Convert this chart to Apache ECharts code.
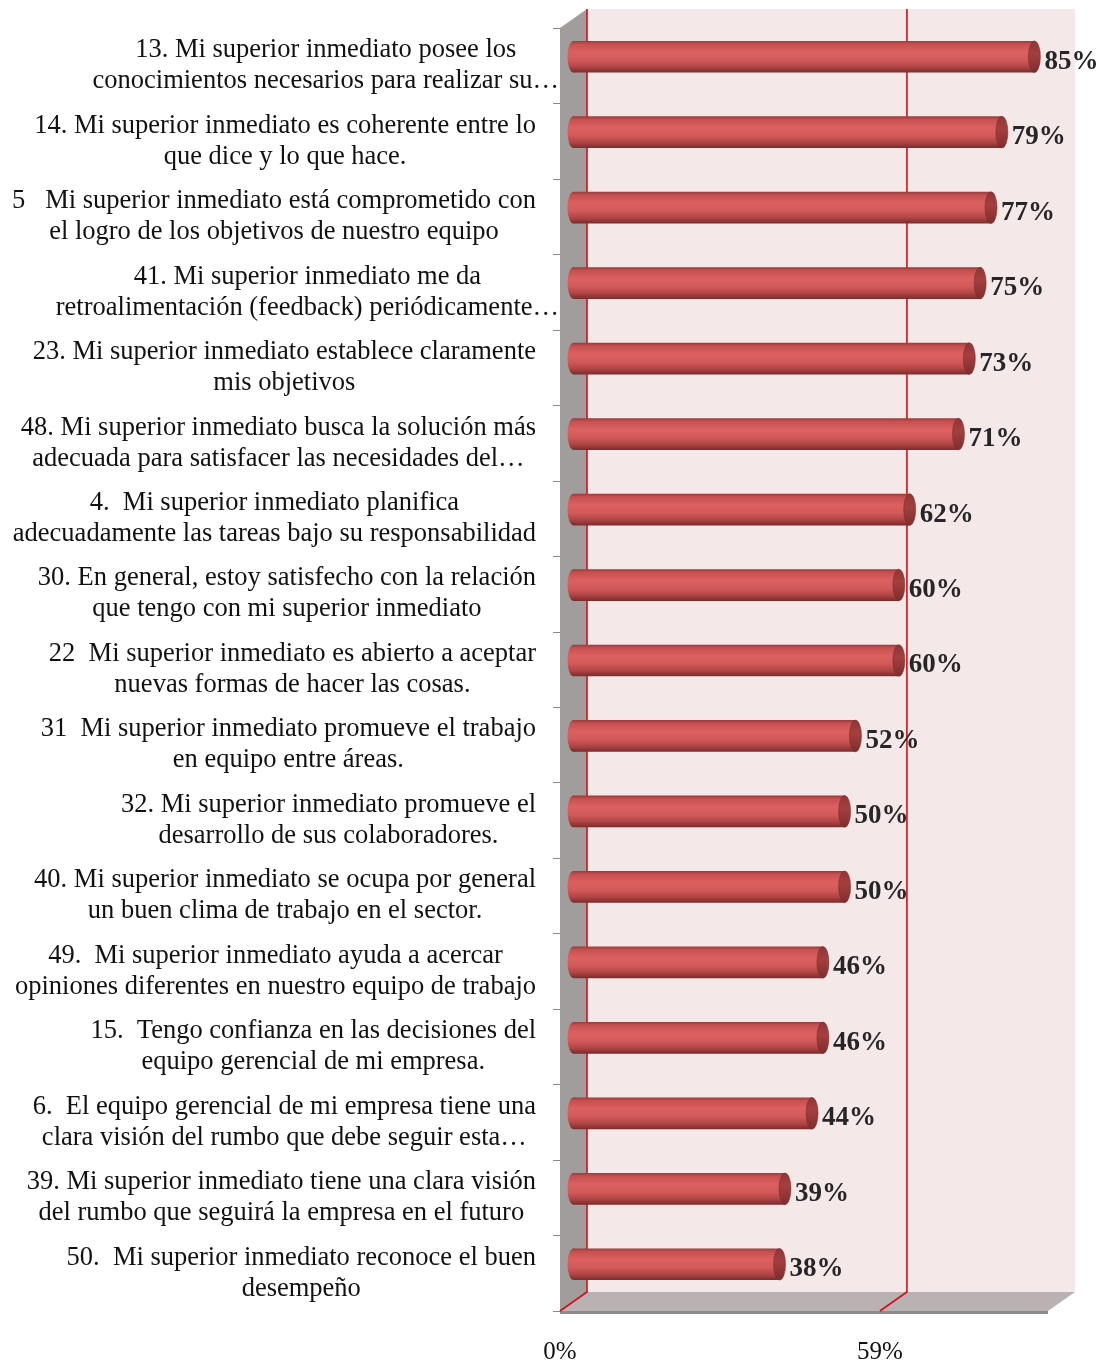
<!DOCTYPE html>
<html><head><meta charset="utf-8">
<script src="https://cdn.jsdelivr.net/npm/echarts@6/dist/echarts.min.js"></script>
<style>html,body{margin:0;padding:0;background:#fff}#c{width:1099px;height:1366px}</style>
</head><body><div id="c"></div>
<script>
const categories = [
 "13. Mi superior inmediato posee los\nconocimientos necesarios para realizar su…",
 "14. Mi superior inmediato es coherente entre lo\nque dice y lo que hace.",
 "5   Mi superior inmediato está comprometido con\nel logro de los objetivos de nuestro equipo",
 "41. Mi superior inmediato me da\nretroalimentación (feedback) periódicamente…",
 "23. Mi superior inmediato establece claramente\nmis objetivos",
 "48. Mi superior inmediato busca la solución más\nadecuada para satisfacer las necesidades del…",
 "4.  Mi superior inmediato planifica\nadecuadamente las tareas bajo su responsabilidad",
 "30. En general, estoy satisfecho con la relación\nque tengo con mi superior inmediato",
 "22  Mi superior inmediato es abierto a aceptar\nnuevas formas de hacer las cosas.",
 "31  Mi superior inmediato promueve el trabajo\nen equipo entre áreas.",
 "32. Mi superior inmediato promueve el\ndesarrollo de sus colaboradores.",
 "40. Mi superior inmediato se ocupa por general\nun buen clima de trabajo en el sector.",
 "49.  Mi superior inmediato ayuda a acercar\nopiniones diferentes en nuestro equipo de trabajo",
 "15.  Tengo confianza en las decisiones del\nequipo gerencial de mi empresa.",
 "6.  El equipo gerencial de mi empresa tiene una\nclara visión del rumbo que debe seguir esta…",
 "39. Mi superior inmediato tiene una clara visión\ndel rumbo que seguirá la empresa en el futuro",
 "50.  Mi superior inmediato reconoce el buen\ndesempeño"
];
const values = [85,79,77,75,73,71,62,60,60,52,50,50,46,46,44,39,38];
const axisTicks = [0, 59];
const axisMin = 0;
const axisMax = 90;

const DX = 27, DY = -19;   // 3D depth offset (front -> back)
const FONT = '"Liberation Serif", "Times New Roman", serif';
const LABEL_SIZE = 26.5;

const mctx = document.createElement('canvas').getContext('2d');
mctx.font = LABEL_SIZE + 'px ' + FONT;
const ELL_W = Math.round(mctx.measureText('…').width * 0.9);

function labelFormatter(val) {
  const lines = val.split('\n');
  let wi = 0, wmax = -1;
  lines.forEach((l, k) => { const w = mctx.measureText(l).width; if (w > wmax) { wmax = w; wi = k; } });
  // Excel lets the trailing ellipsis of the widest line hang past the text box
  const overhang = lines[wi].slice(-1) === '…';
  const style = overhang ? 'c' : 'p';
  return lines.map(l => '{' + style + '|' + l + '}').join('\n');
}

const chart = echarts.init(document.getElementById('c'), null, {renderer: 'canvas'});

function wallsRender(params, api) {
  const n = categories.length;
  const band = api.size([0, 1])[1];
  const top = api.coord([axisMin, 0])[1] - band / 2;
  const bot = api.coord([axisMin, n - 1])[1] + band / 2;
  const x0 = api.coord([axisMin, 0])[0];
  const x1 = api.coord([axisMax, 0])[0];
  const children = [];
  children.push({type: 'polygon', shape: {points: [[x0 + DX, top + DY], [x1 + DX, top + DY], [x1 + DX, bot + DY], [x0 + DX, bot + DY]]},
    style: {fill: '#f5e8e9'}});
  children.push({type: 'polygon', shape: {points: [[x0, top], [x0 + DX, top + DY], [x0 + DX, bot + DY], [x0, bot]]},
    style: {fill: '#a19d9d'}});
  children.push({type: 'polygon', shape: {points: [[x0, bot], [x0 + DX, bot + DY], [x1 + DX, bot + DY], [x1, bot]]},
    style: {fill: '#b9b1b2'}});
  children.push({type: 'rect', shape: {x: x0, y: bot, width: x1 - x0, height: 3}, style: {fill: '#8c8a8a'}});
  axisTicks.forEach(t => {
    const x = api.coord([t, 0])[0];
    children.push({type: 'polyline', shape: {points: [[x + DX, top + DY], [x + DX, bot + DY], [x, bot]]},
      style: {stroke: '#d0101a', lineWidth: 1.6, fill: null}});
  });
  return {type: 'group', children};
}

function barRender(params, api) {
  const v = api.value(0), i = api.value(1);
  const s = api.coord([axisMin, i]);
  const e = api.coord([v, i]);
  const band = api.size([0, 1])[1];
  const ry = band * 0.21;
  const rx = 6;
  const xs = s[0] + DX / 2, xe = e[0] + DX / 2, yc = s[1] + DY / 2 + 0.5;
  const grad = () => new echarts.graphic.LinearGradient(0, 0, 0, 1, [
    {offset: 0, color: '#9a3a3a'},
    {offset: 0.1, color: '#c65050'},
    {offset: 0.35, color: '#dd6060'},
    {offset: 0.6, color: '#d35a5a'},
    {offset: 0.82, color: '#b04545'},
    {offset: 1, color: '#7a2b2b'}
  ]);
  return {type: 'group', children: [
    {type: 'circle', shape: {cx: 0, cy: 0, r: ry}, x: xs, y: yc, scaleX: rx / ry, style: {fill: grad()}},
    {type: 'rect', shape: {x: xs, y: yc - ry, width: xe - xs, height: ry * 2}, style: {fill: grad()}},
    {type: 'circle', shape: {cx: 0, cy: 0, r: ry}, x: xe, y: yc, scaleX: rx / ry,
      style: {fill: new echarts.graphic.LinearGradient(0, 0, 0, 1, [
        {offset: 0, color: '#8f3535'}, {offset: 0.4, color: '#a43f3f'}, {offset: 1, color: '#7e2d2d'}]),
        stroke: '#7a2b2b', lineWidth: 0.8}},
    {type: 'text', x: xe + rx + 4, y: s[1] - 4,
      style: {text: v + '%', font: 'bold 27px ' + FONT, fill: '#262626', align: 'left', verticalAlign: 'middle'}}
  ]};
}

chart.setOption({
  animation: false,
  grid: {left: 560, right: 51, top: 28, bottom: 55, outerBoundsMode: 'none', containLabel: false},
  xAxis: {
    type: 'value', min: axisMin, max: axisMax, interval: axisTicks[1] - axisTicks[0],
    axisLine: {show: false}, axisTick: {show: false}, splitLine: {show: false},
    axisLabel: {
      showMaxLabel: false, margin: 29,
      formatter: v => axisTicks.indexOf(v) >= 0 ? v + '%' : '',
      fontFamily: FONT, fontSize: 25, color: '#111'
    }
  },
  yAxis: {
    type: 'category', data: categories, inverse: true,
    axisLine: {show: true, lineStyle: {color: '#8c8a8a', width: 1}},
    axisTick: {show: true, length: 7, lineStyle: {color: '#8c8a8a'}},
    splitLine: {show: false},
    axisLabel: {
      margin: 24 - ELL_W + 1, interval: 0,
      formatter: labelFormatter,
      rich: {
        c: {align: 'center', fontFamily: FONT, fontSize: LABEL_SIZE, lineHeight: 31, color: '#111'},
        p: {align: 'center', fontFamily: FONT, fontSize: LABEL_SIZE, lineHeight: 31, color: '#111', padding: [0, ELL_W - 1, 0, 0]}
      }
    }
  },
  series: [
    {type: 'custom', data: [[axisMin, 0]], renderItem: wallsRender, clip: false, z: 1, silent: true},
    {type: 'custom', data: values.map((v, i) => [v, i]), encode: {x: 0, y: 1}, renderItem: barRender, clip: false, z: 5, silent: true}
  ]
});
</script>
</body></html>
